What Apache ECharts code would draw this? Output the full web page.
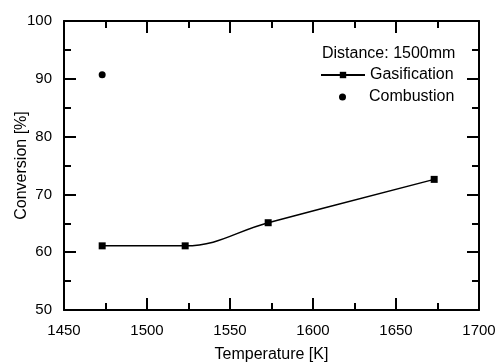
<!DOCTYPE html>
<html>
<head>
<meta charset="utf-8">
<script src="https://cdn.jsdelivr.net/npm/echarts@6/dist/echarts.min.js"></script>
<style>html,body{margin:0;padding:0;background:#fff;}#c{width:496px;height:364px;}</style>
</head>
<body>
<div id="c"></div>
<script>
var temperatures = [1473, 1523, 1573, 1673];
var gasification = [61.1, 61.1, 65.1, 72.6];
var combustionT = [1473];
var combustion = [90.7];
var xTicks = [1450, 1500, 1550, 1600, 1650, 1700];
var yTicks = [50, 60, 70, 80, 90, 100];

var FONT = '"Liberation Sans", Arial, sans-serif';
var axisCommon = {
  axisLine: {show: true, onZero: false, lineStyle: {color: '#000', width: 2}},
  axisTick: {show: true, inside: true, length: 12, lineStyle: {color: '#000', width: 2}},
  minorTick: {show: true, splitNumber: 2, length: 7, lineStyle: {color: '#000', width: 2}},
  splitLine: {show: false}
};
function mk(o, extra) { return Object.assign({}, JSON.parse(JSON.stringify(o)), extra); }
function plain(v) { return String(v); }

var chart = echarts.init(document.getElementById('c'), null, {renderer: 'canvas'});
chart.setOption({
  animation: false,
  backgroundColor: '#fff',
  textStyle: {fontFamily: FONT},
  title: {
    text: 'Distance: 1500mm',
    left: 322, top: 46, padding: 0,
    textStyle: {fontFamily: FONT, fontSize: 16, fontWeight: 'normal', color: '#000'}
  },
  legend: [
    {
      orient: 'vertical', left: 320, top: 67, padding: 0,
      itemWidth: 44, itemHeight: 8,
      textStyle: {fontFamily: FONT, fontSize: 16, color: '#000', lineHeight: 16},
      data: ['Gasification']
    },
    {
      orient: 'vertical', left: 339, top: 89, padding: 0,
      itemWidth: 7, itemHeight: 7,
      textStyle: {fontFamily: FONT, fontSize: 16, color: '#000', lineHeight: 16, padding: [0, 0, 0, 18]},
      data: ['Combustion']
    }
  ],
  grid: {left: 64, right: 17, top: 21, bottom: 54, containLabel: false, outerBoundsMode: 'none'},
  xAxis: [
    mk(axisCommon, {
      type: 'value', position: 'bottom', min: xTicks[0], max: xTicks[xTicks.length - 1], interval: 50,
      name: 'Temperature [K]', nameLocation: 'middle', nameGap: 37, nameMoveOverlap: false,
      nameTextStyle: {fontFamily: FONT, fontSize: 16, color: '#000'},
      axisLabel: {fontFamily: FONT, fontSize: 15, color: '#000', margin: 13, formatter: plain}
    }),
    mk(axisCommon, {
      type: 'value', position: 'top', min: xTicks[0], max: xTicks[xTicks.length - 1], interval: 50,
      axisLabel: {show: false}
    })
  ],
  yAxis: [
    mk(axisCommon, {
      type: 'value', position: 'left', min: yTicks[0], max: yTicks[yTicks.length - 1], interval: 10,
      name: 'Conversion [%]', nameLocation: 'middle', nameGap: 34, nameMoveOverlap: false,
      nameTextStyle: {fontFamily: FONT, fontSize: 16, color: '#000'},
      axisLabel: {fontFamily: FONT, fontSize: 15, color: '#000', margin: 12, formatter: plain}
    }),
    mk(axisCommon, {
      type: 'value', position: 'right', min: yTicks[0], max: yTicks[yTicks.length - 1], interval: 10,
      axisLabel: {show: false}
    })
  ],
  series: [
    {
      name: 'Gasification', type: 'line', smooth: 0.4,
      data: temperatures.map(function (t, i) { return [t, gasification[i]]; }),
      symbol: 'rect', symbolSize: 7,
      lineStyle: {color: '#000', width: 1.5},
      itemStyle: {color: '#000', opacity: 1}
    },
    {
      name: 'Combustion', type: 'scatter',
      data: combustionT.map(function (t, i) { return [t, combustion[i]]; }),
      symbol: 'circle', symbolSize: 7,
      itemStyle: {color: '#000', opacity: 1}
    }
  ]
});
</script>
</body>
</html>
